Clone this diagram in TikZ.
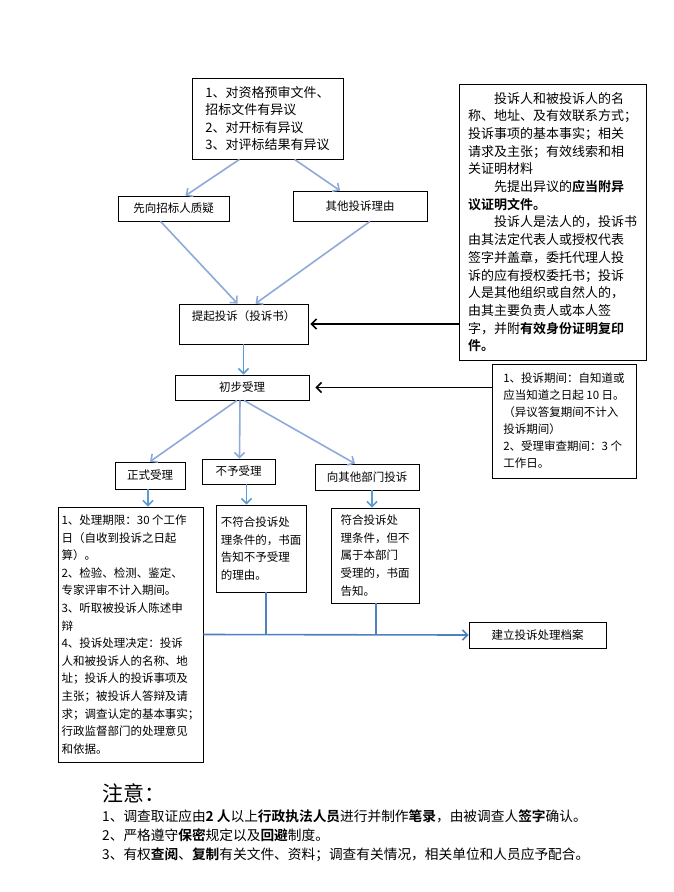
\documentclass[tikz,border=0pt]{standalone}
\usepackage{fontspec}
\setmainfont{Noto Sans CJK SC}[BoldFont={Noto Sans CJK SC Bold}]
\usetikzlibrary{arrows.meta}

\definecolor{lblue}{RGB}{142,170,219}
\definecolor{mblue}{RGB}{91,155,213}
\definecolor{dblue}{RGB}{79,129,189}

\tikzset{
  box/.style={draw, line width=0.8pt, inner sep=4pt, align=left, font=\fontsize{11.5}{17.6}\selectfont},
  flow/.style={-{Straight Barb[length=5pt,width=10pt]}, line width=1.6pt, draw=lblue},
  flowb/.style={flow, draw=mblue},
  hint/.style={-{Straight Barb[length=5pt,width=10pt]}, line width=1.6pt, draw=black}
}

\begin{document}
\begin{tikzpicture}[x=1pt,y=-1pt]
\fill[white] (0,0) rectangle (674,892);
\useasboundingbox (0,0) rectangle (674,892);

\node[box, minimum width=151pt, minimum height=81pt, font=\fontsize{13}{17.5}\selectfont] (grounds) at (267.5,118.5)
  {1、对资格预审文件、\\招标文件有异议\\2、对开标有异议\\3、对评标结果有异议};
\node[box, minimum width=111pt, minimum height=25pt] (query) at (173.5,208.5) {先向招标人质疑};
\node[box, minimum width=134pt, minimum height=30pt] (otherreason) at (360,206) {其他投诉理由};

\node[box, inner sep=3pt, minimum width=187pt, minimum height=276pt, font=\fontsize{13}{17.7}\selectfont] (content) at (552.5,222)
  {\hspace*{2em}投诉人和被投诉人的名\\称、地址、及有效联系方式；\\投诉事项的基本事实；相关\\请求及主张；有效线索和相\\关证明材料\\
   \hspace*{2em}先提出异议的\textbf{应当附异}\\\textbf{议证明文件。}\\
   \hspace*{2em}投诉人是法人的，投诉书\\由其法定代表人或授权代表\\签字并盖章，委托代理人投\\诉的应有授权委托书；投诉\\人是其他组织或自然人的，\\由其主要负责人或本人签\\字，并附\textbf{有效身份证明复印}\\\textbf{件。}};

\node[box, minimum width=129pt, minimum height=40pt] (lodge) at (243.5,324) {提起投诉（投诉书）\\\mbox{}};
\node[box, minimum width=134pt, minimum height=25pt] (prelim) at (242,387.5) {初步受理};
\node[box, minimum width=144pt, minimum height=114pt, font=\fontsize{11.5}{17}\selectfont] (periods) at (564,421)
  {1、投诉期间：自知道或\\应当知道之日起 10 日。\\（异议答复期间不计入\\投诉期间）\\2、受理审查期间：3 个\\工作日。};

\node[box, minimum width=70pt, minimum height=27pt] (accept) at (150,475.5) {正式受理};
\node[box, minimum width=73pt, minimum height=25pt] (refuse) at (238.5,471.5) {不予受理};
\node[box, minimum width=104pt, minimum height=26pt] (transfer) at (367,477) {向其他部门投诉};

\node[box, inner sep=3pt, minimum width=145pt, minimum height=255pt, font=\fontsize{11.5}{17.6}\selectfont] (handling) at (130.5,634.5)
  {1、处理期限：30 个工作\\日（自收到投诉之日起\\算）。\\2、检验、检测、鉴定、\\专家评审不计入期间。\\3、听取被投诉人陈述申\\辩\\4、投诉处理决定：投诉\\人和被投诉人的名称、地\\址；投诉人的投诉事项及\\主张；被投诉人答辩及请\\求；调查认定的基本事实；\\行政监督部门的处理意见\\和依据。};
\node[box, minimum width=90pt, minimum height=87pt] (refusenote) at (261,548.5)
  {不符合投诉处\\理条件的，书面\\告知不予受理\\的理由。};
\node[box, minimum width=88pt, minimum height=95pt] (transfernote) at (375,555.5)
  {符合投诉处\\理条件，但不\\属于本部门\\受理的，书面\\告知。};
\node[box, minimum width=137pt, minimum height=26pt] (archive) at (537.5,635) {建立投诉处理档案};

% notes below the chart
\node[anchor=west, inner sep=0pt, font=\fontsize{21}{24}\selectfont] (attention) at (102,793) {注意：};
\node[anchor=north west, inner sep=0pt, align=left, font=\fontsize{13.7}{19}\selectfont] (rules) at (102,810)
  {1、调查取证应由\textbf{2 人}以上\textbf{行政执法人员}进行并制作\textbf{笔录}，由被调查人\textbf{签字}确认。\\
   2、严格遵守\textbf{保密}规定以及\textbf{回避}制度。\\
   3、有权\textbf{查阅}、\textbf{复制}有关文件、资料；调查有关情况，相关单位和人员应予配合。};

% connectors
\draw[flow] ([xshift=-28pt]grounds.south) -- ([xshift=12pt]query.north);
\draw[flow] ([xshift=27pt]grounds.south) -- ([xshift=-20pt]otherreason.north);
\draw[flow] ([xshift=-13pt]query.south) -- ([xshift=-6pt]lodge.north);
\draw[flow] ([xshift=10pt]otherreason.south) -- ([xshift=12pt]lodge.north);
\draw[flowb] (lodge.south) -- (lodge.south |- prelim.north);
\draw[flow] ([xshift=-5pt]prelim.south) -- (accept.north);
\draw[flow] ([xshift=-2pt]prelim.south) -- ([xshift=1pt]refuse.north);
\draw[flow] ([xshift=2pt]prelim.south) -- ([xshift=-12pt]transfer.north);
\draw[flowb] ([xshift=-2pt]accept.south) -- ([xshift=-2pt]accept.south |- handling.north);
\draw[flowb] ([xshift=8pt]refuse.south) -- ([xshift=8pt]refuse.south |- refusenote.north);
\draw[flowb] ([xshift=5pt]transfer.south) -- ([xshift=5pt]transfer.south |- transfernote.north);
\draw[flowb, draw=dblue] (handling.east) -- (archive.west);
\draw[dblue, line width=1.6pt] ([xshift=5pt]refusenote.south) -- ([xshift=5pt]refusenote.south |- handling.east);
\draw[dblue, line width=1.6pt] ([xshift=1pt]transfernote.south) -- ([xshift=1pt]transfernote.south |- handling.east);
\draw[hint] (content.west |- lodge) -- ([xshift=2pt]lodge.east);
\draw[hint] (periods.west |- prelim) -- ([xshift=6pt]prelim.east);
\end{tikzpicture}
\end{document}
